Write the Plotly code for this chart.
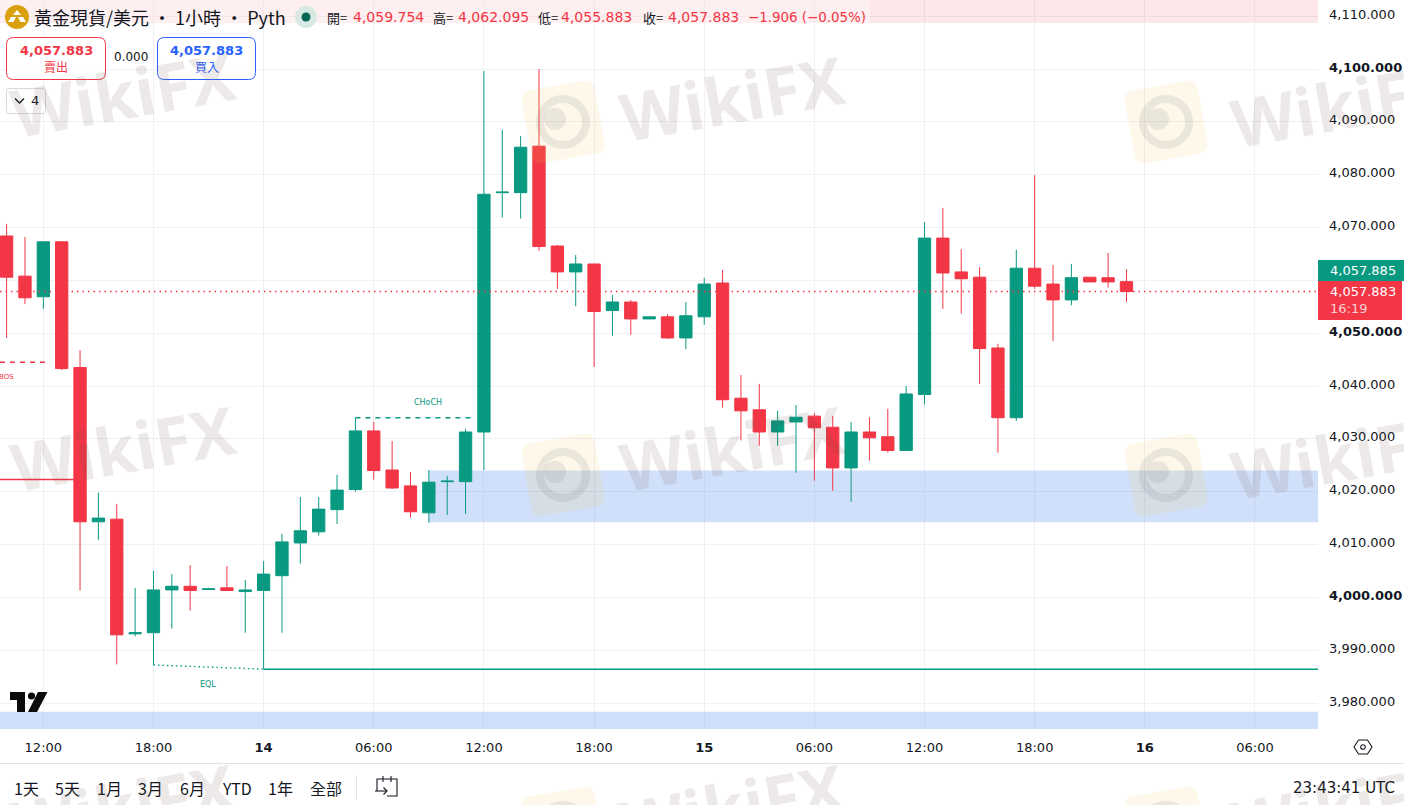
import math
import pandas as pd
import plotly.graph_objects as go

# ---- data -------------------------------------------------------------
start_time = "2025-10-13 10:00"
opens = [4068.4,4060.8,4056.9,4067.3,4043.5,4014.3,4014.8,3993.1,3993.3,4001.4,4002.1,4001.5,4001.8,4001.1,4001.3,4004.1,
         4010.3,4012.4,4016.6,4020.4,4031.5,4024.1,4021.1,4016.0,4021.9,4021.9,4031.3,4076.6,4076.6,4085.4,4066.5,4061.6,
         4063.1,4054.3,4055.9,4052.7,4053.1,4049.1,4053.1,4059.5,4037.7,4035.5,4031.3,4033.2,4034.3,4032.2,4024.5,4031.3,
         4030.4,4027.8,4038.4,4068.0,4061.6,4060.6,4047.2,4034.0,4062.3,4059.3,4056.3,4060.6,4060.5,4059.754]
highs = [4070.7,4068.2,4067.3,4067.3,4046.8,4019.8,4017.7,4001.8,4005.0,4004.4,4006.1,4001.8,4005.9,4003.3,4006.9,4012.0,
         4019.0,4019.0,4023.2,4034.0,4033.2,4029.6,4023.7,4024.1,4023.0,4031.9,4099.6,4088.5,4087.3,4100.0,4066.7,4064.8,
         4063.1,4057.2,4056.3,4053.1,4053.6,4055.9,4060.5,4062.0,4042.1,4040.4,4035.3,4036.4,4034.9,4034.3,4033.2,4034.1,
         4035.7,4040.0,4071.0,4073.7,4065.9,4062.5,4048.0,4065.8,4079.9,4062.9,4063.1,4060.6,4065.2,4062.095]
lows = [4049.1,4055.5,4054.6,4043.0,4001.3,4010.9,3987.3,3992.6,3987.2,3994.1,3997.5,4001.4,4001.3,3993.3,3986.4,3993.3,
        4006.4,4011.7,4013.9,4020.0,4022.3,4020.5,4015.1,4014.1,4015.6,4015.8,4024.1,4071.9,4071.7,4065.6,4058.4,4055.1,
        4043.6,4049.5,4049.7,4052.7,4048.9,4047.0,4051.6,4035.9,4029.7,4028.7,4028.7,4023.6,4022.1,4020.2,4018.1,4025.9,
        4027.4,4027.8,4036.5,4054.6,4053.7,4040.4,4027.4,4033.4,4058.4,4048.5,4055.3,4059.7,4058.6,4055.883]
closes = [4060.6,4056.7,4067.3,4043.3,4014.3,4015.0,3992.9,3993.3,4001.4,4002.1,4001.3,4001.6,4001.3,4001.4,4004.4,4010.5,
          4012.6,4016.7,4020.3,4031.5,4024.0,4020.7,4016.2,4021.8,4022.0,4031.3,4076.3,4076.7,4085.2,4066.4,4061.6,4063.1,
          4054.1,4055.9,4052.7,4053.1,4049.1,4053.3,4059.3,4037.4,4035.3,4031.3,4033.4,4034.1,4032.1,4024.5,4031.3,4030.2,
          4027.8,4038.5,4068.0,4061.4,4060.3,4047.1,4034.0,4062.3,4058.9,4056.3,4060.5,4059.7,4059.7,4057.883]
last_price = 4057.883

price_ticks = [3980,3990,4000,4010,4020,4030,4040,4050,4060,4070,4080,4090,4100,4110]
price_labels = ["3,980.000","3,990.000","<b>4,000.000</b>","4,010.000","4,020.000","4,030.000","4,040.000",
                "<b>4,050.000</b>","","4,070.000","4,080.000","4,090.000","<b>4,100.000</b>","4,110.000"]
time_ticks = ["2025-10-13 12:00","2025-10-13 18:00","2025-10-14 00:00","2025-10-14 06:00","2025-10-14 12:00",
              "2025-10-14 18:00","2025-10-15 00:00","2025-10-15 06:00","2025-10-15 12:00","2025-10-15 18:00",
              "2025-10-16 00:00","2025-10-16 06:00"]
time_labels = ["12:00","18:00","<b>14</b>","06:00","12:00","18:00","<b>15</b>","06:00","12:00","18:00","<b>16</b>","06:00"]
range_buttons = ["1天","5天","1月","3月","6月","YTD","1年","全部"]

x_start, x_end = "2025-10-13 09:38:24", "2025-10-16 09:26:00"
y_low, y_high = 3975.08, 4113.07

demand_top, demand_bottom = 4024.0, 4014.2
demand_start = "2025-10-14 09:00"
low_zone = (3978.35, 3975.08)
supply_zone = (4113.07, 4108.7)
eql_times = ["2025-10-13 18:00", "2025-10-14 00:00"]
eql_prices = [3987.2, 3986.4]
low_line_times = ["2025-10-14 00:00", x_end]
low_line_prices = [3986.4, 3986.4]
choch_times = ["2025-10-14 05:00", "2025-10-14 11:20"]
choch_prices = [4034.0, 4034.0]
bos_times = [x_start, "2025-10-13 12:15"]
bos_prices = [4044.5, 4044.5]
red_line_times = [x_start, "2025-10-13 13:40"]
red_line_prices = [4022.3, 4022.3]

RED, GREEN, BLUE, INK = "#f23645", "#089981", "#2962ff", "#131722"
W, H, PW, PH = 1404, 805, 1318, 729
times = pd.date_range(start_time, periods=len(opens), freq="h")

def px(x): return x / PW
def py(y): return 1 - y / PH

fig = go.Figure()

fig.add_trace(go.Candlestick(
    x=times, open=opens, high=highs, low=lows, close=closes,
    increasing=dict(line=dict(color=GREEN, width=1), fillcolor=GREEN),
    decreasing=dict(line=dict(color=RED, width=1), fillcolor=RED),
    whiskerwidth=0, showlegend=False))

def level(xs, ys, color, dash="solid", width=1.4):
    fig.add_trace(go.Scatter(x=xs, y=ys, mode="lines", showlegend=False, hoverinfo="skip",
                             line=dict(color=color, width=width, dash=dash)))

level(eql_times, eql_prices, GREEN, "1.5px,3px")
level(low_line_times, low_line_prices, GREEN)
level(choch_times, choch_prices, GREEN, "5px,5px")
level(bos_times, bos_prices, RED, "5px,5px")
level(red_line_times, red_line_prices, RED)
level([x_start, x_end], [last_price, last_price], RED, "1.5px,4px")

shapes = []
annots = []

def rect_data(x0, x1, y0, y1, fill):
    shapes.append(dict(type="rect", xref="x", yref="y", x0=x0, x1=x1, y0=y0, y1=y1,
                       fillcolor=fill, line_width=0, layer="between"))

rect_data(demand_start, x_end, demand_bottom, demand_top, "rgba(25,100,230,0.2)")
rect_data(x_start, x_end, low_zone[1], low_zone[0], "rgba(25,100,230,0.2)")
rect_data(x_start, x_end, supply_zone[1], supply_zone[0], "rgba(242,54,69,0.12)")

def rbox(x0, y0, x1, y1, r):
    return (f"M{px(x0+r)},{py(y0)} L{px(x1-r)},{py(y0)} Q{px(x1)},{py(y0)} {px(x1)},{py(y0+r)} "
            f"L{px(x1)},{py(y1-r)} Q{px(x1)},{py(y1)} {px(x1-r)},{py(y1)} L{px(x0+r)},{py(y1)} "
            f"Q{px(x0)},{py(y1)} {px(x0)},{py(y1-r)} L{px(x0)},{py(y0+r)} Q{px(x0)},{py(y0)} {px(x0+r)},{py(y0)} Z")

def pshape(path, fill=None, line=None, lw=1, layer="above"):
    s = dict(type="path", xref="paper", yref="paper", path=path, layer=layer,
             line=dict(color=line or "rgba(0,0,0,0)", width=lw if line else 0))
    if fill: s["fillcolor"] = fill
    shapes.append(s)

def poly(pts, close=True):
    return "M" + " L".join(f"{px(a)},{py(b)}" for a, b in pts) + (" Z" if close else "")

def prect(x0, y0, x1, y1, fill, layer="above"):
    shapes.append(dict(type="rect", xref="paper", yref="paper", x0=px(x0), x1=px(x1), y0=py(y0), y1=py(y1),
                       fillcolor=fill, line_width=0, layer=layer))

def circle(cx, cy, r, fill=None, line=None, lw=1):
    shapes.append(dict(type="circle", xref="paper", yref="paper", x0=px(cx-r), x1=px(cx+r),
                       y0=py(cy+r), y1=py(cy-r), fillcolor=fill or "rgba(0,0,0,0)",
                       line=dict(color=line or "rgba(0,0,0,0)", width=lw if line else 0), layer="above"))

def text(x, y, s, size=13, color=INK, anchor="center", font="DejaVu Sans", angle=0):
    annots.append(dict(x=px(x), y=py(y), xref="paper", yref="paper", text=s, showarrow=False,
                       xanchor=anchor, yanchor="middle", textangle=angle, borderpad=0, borderwidth=0,
                       font=dict(size=size, color=color, family=font)))

# header backing and title
prect(0, 0, 870, 23, "rgba(255,255,255,0.35)")
circle(17, 17, 12, fill="#d9a10e")
pshape(poly([(17,10),(21,15),(13,15)]), fill="white")
pshape(poly([(11,17),(16,17),(13.5,22),(8,22)]), fill="white")
pshape(poly([(18,17),(23,17),(26,22),(20.5,22)]), fill="white")
CJK = "Noto Sans CJK TC, DejaVu Sans"
text(34, 17, "黃金現貨/美元 · 1小時 · Pyth", 18, INK, "left", CJK)
circle(306, 17, 11, fill="#d8e9e4")
circle(306, 17, 4.5, fill="#056656")
for lx, lab, vx, val in [(327, "開=", 353, "4,059.754"), (433, "高=", 458, "4,062.095"),
                         (538, "低=", 561, "4,055.883"), (643, "收=", 668, "4,057.883")]:
    text(lx, 17, lab, 13, INK, "left", CJK)
    text(vx, 17, val, 14, RED, "left")
text(748, 17, "−1.906 (−0.05%)", 13.4, RED, "left")

# sell / buy widgets
pshape(rbox(6.5, 37.5, 105.5, 79.5, 7), fill="rgba(255,255,255,0.9)", line=RED)
pshape(rbox(157.5, 37.5, 255.5, 79.5, 7), fill="rgba(255,255,255,0.9)", line=BLUE)
text(56, 50, "<b>4,057.883</b>", 13, RED)
text(56, 66, "賣出", 12, RED, font=CJK)
text(206.5, 50, "<b>4,057.883</b>", 13, BLUE)
text(206.5, 66, "買入", 12, BLUE, font=CJK)
text(131, 57.5, "0.000", 12, INK)
pshape(rbox(6.5, 88.5, 45.5, 113.5, 3), fill="rgba(255,255,255,0.8)", line="#d6d8de")
pshape(poly([(15,98.5),(19.5,103),(24,98.5)], False), line=INK, lw=1.3)
text(35, 101, "4", 13, INK)

# drawn-level labels
text(428, 402, "CHoCH", 8, GREEN)
text(6, 377, "BOS", 7, RED)
text(208, 684, "EQL", 8, GREEN)

# TradingView mark
pshape(poly([(10,692),(25,692),(25,712),(17,712),(17,700),(10,700)]), fill="#0b0b0b")
circle(31.5, 696, 3.6, fill="#0b0b0b")
pshape(poly([(38,692),(47.5,692),(37,712),(28,712)]), fill="#0b0b0b")

# price labels on the scale
prect(1318, 260, 1404, 281, GREEN)
prect(1318, 281, 1402, 320, RED)
text(1330, 270.5, "4,057.885", 13, "white", "left")
text(1330, 291, "4,057.883", 13, "white", "left")
text(1330, 309, "16:19", 13, "#fbd0d4", "left")

# lower toolbar
shapes.append(dict(type="line", xref="paper", yref="paper", x0=0, x1=px(W), y0=py(763.5), y1=py(763.5),
                   line=dict(color="#e0e3eb", width=1), layer="above"))
for cx, lab in zip([26, 67, 109, 150, 192, 237, 280, 326], range_buttons):
    text(cx, 788, lab, 16, INK, font=CJK)
shapes.append(dict(type="line", xref="paper", yref="paper", x0=px(356.5), x1=px(356.5), y0=py(775), y1=py(800),
                   line=dict(color="#e0e3eb", width=1), layer="above"))
pshape(poly([(377,791),(377,779),(397,779),(397,796),(387,796)], False), line=INK, lw=1.1)
pshape(poly([(383,776),(383,782)], False), line=INK, lw=1.1)
pshape(poly([(391,776),(391,782)], False), line=INK, lw=1.1)
pshape(poly([(375,791),(387,791)], False), line=INK, lw=1.1)
pshape(poly([(383.5,787.5),(387,791),(383.5,794.5)], False), line=INK, lw=1.1)
text(1395, 788, "23:43:41 UTC", 15, INK, "right")
pshape(poly([(1354,747),(1358.5,740),(1367.5,740),(1372,747),(1367.5,754),(1358.5,754)]), line=INK, lw=1.1)
circle(1363, 747, 2.3, line=INK, lw=1.1)

# WikiFX watermark
ANG = math.radians(-10)
def tilted_square(cx, cy, half, r):
    c, s = math.cos(ANG), math.sin(ANG)
    pts = []
    corners = [(half, half, 0), (-half, half, 90), (-half, -half, 180), (half, -half, 270)]
    for qx, qy, a0 in corners:
        ox = qx - math.copysign(r, qx)
        oy = qy - math.copysign(r, qy)
        for k in range(5):
            a = math.radians(a0 + k * 22.5)
            u, v = ox + r * math.cos(a), oy + r * math.sin(a)
            pts.append((cx + u * c - v * s, cy + u * s + v * c))
    return poly(pts)

for tx, ty in [(123, 93), (732, 97), (1343, 103), (123, 447), (732, 447), (1343, 455),
               (123, 805), (732, 805), (1343, 805)]:
    text(tx, ty, "<b>WikiFX</b>", 66, "rgba(95,75,65,0.12)", font="Open Sans", angle=-10)
for lx, ly in [(563, 122), (563, 475), (1166, 122), (1166, 475), (563, 828), (1166, 828)]:
    pshape(tilted_square(lx, ly, 37, 9), fill="rgba(240,200,90,0.13)")
    circle(lx, ly, 23, line="rgba(105,105,105,0.12)", lw=8)
    circle(lx - 8, ly - 3, 11, fill="rgba(105,105,105,0.12)")

fig.update_layout(
    width=W, height=H, autosize=False,
    margin=dict(l=0, r=W - PW, t=0, b=H - PH),
    paper_bgcolor="white", plot_bgcolor="white",
    boxgap=0.0, boxgroupgap=0.33,
    shapes=shapes, annotations=annots,
    font=dict(family="DejaVu Sans", color=INK, size=13),
    xaxis=dict(type="date", range=[x_start, x_end], rangeslider=dict(visible=False),
               tickvals=time_ticks, ticktext=time_labels, ticks="", showline=False, zeroline=False,
               gridcolor="#f0f1f5", gridwidth=1, tickfont=dict(size=13, color=INK), tickangle=0,
               ticklabelstandoff=9),
    yaxis=dict(side="right", range=[y_low, y_high], tickvals=price_ticks, ticktext=price_labels,
               ticks="", showline=False, zeroline=False, gridcolor="#f0f1f5", gridwidth=1,
               tickfont=dict(size=13, color=INK), ticklabelstandoff=10, ticklabelshift=-2, automargin=False),
)

fig.write_html("out.html", config={"displayModeBar": False},
               post_script="document.body.style.margin='0';document.body.style.overflow='hidden';")
